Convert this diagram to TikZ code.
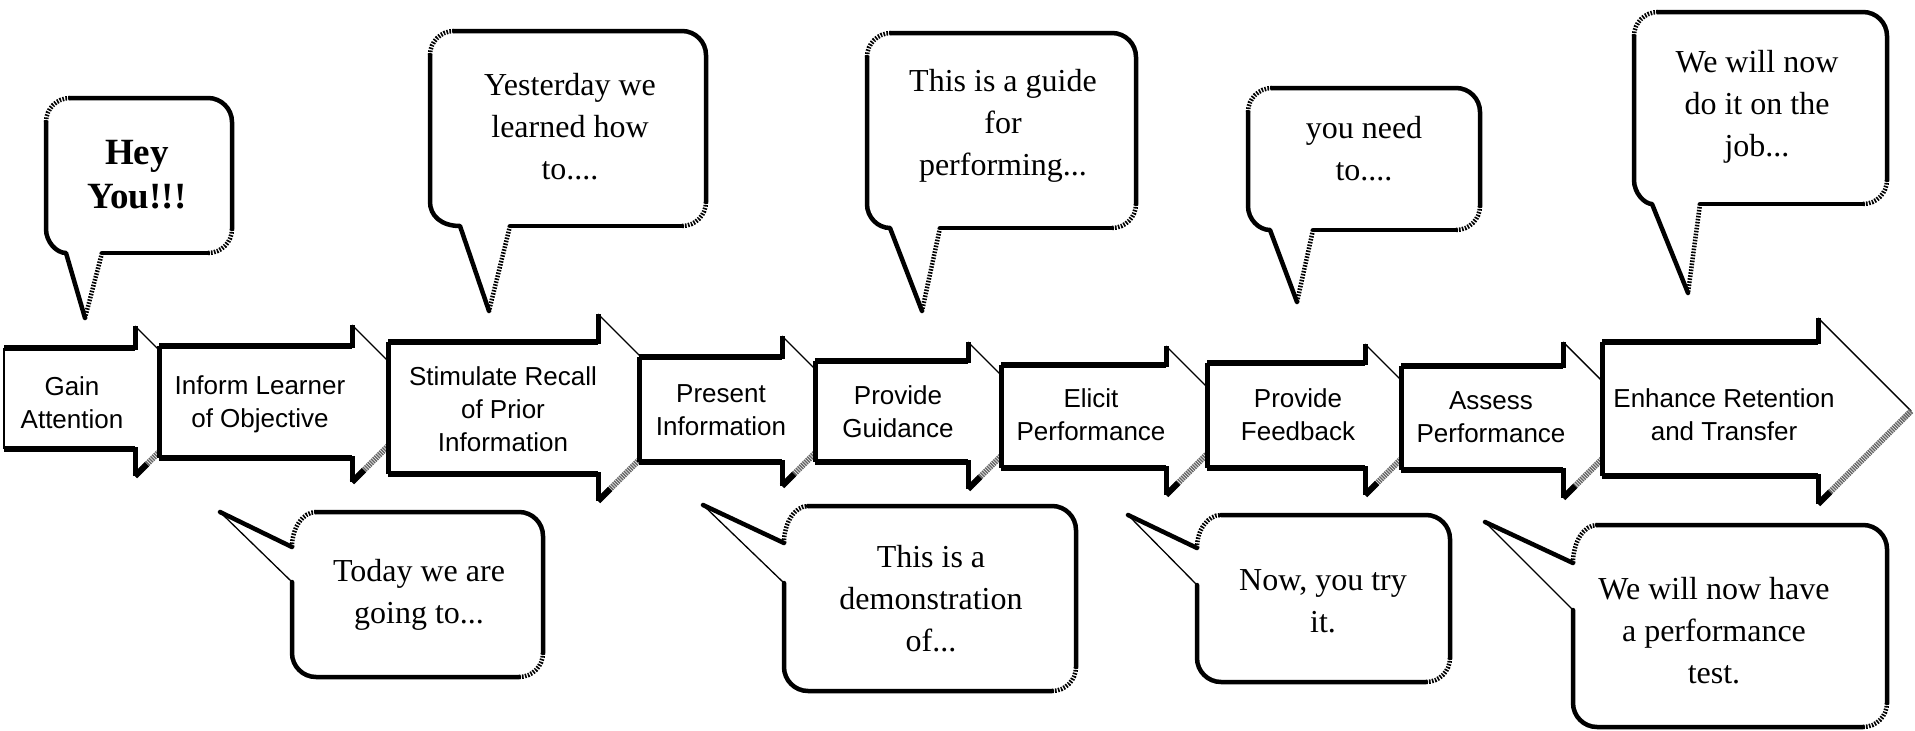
\documentclass[tikz,border=0pt]{standalone}
\usepackage{fontspec}
\newfontfamily\calloutfont{Liberation Serif}
\newfontfamily\labelfont{Liberation Sans}

% arrow: #1 left, #2 notch, #3 body top, #4 body bottom, #5 head top, #6 head bottom, #7 left edge style
\newcommand{\stagearrow}[7]{%
  \pgfmathsetmacro{\myTX}{#2+(#6-#5)/2}%
  \pgfmathsetmacro{\myTY}{(#5+#6)/2}%
  \pgfmathsetmacro{\myKX}{#2+12}%
  \pgfmathsetmacro{\myKY}{#6-12}%
  \fill[white] (#1,#3) -- (#2,#3) -- (#2,#5) -- (\myTX,\myTY) -- (#2,#6) -- (#2,#4) -- (#1,#4) -- cycle;
  \draw[athin] (#2,#5) -- (\myTX,\myTY);
  \draw[ashade] (\myTX,\myTY) -- (#2,#6);
  \draw[ablack] (\myKX,\myKY) -- (#2,#6);
  \draw[athick] (#1,#3) -- (#2,#3);
  \draw[avert] (#2,{#3+2}) -- (#2,#5);
  \draw[avert] (#2,#6) -- (#2,{#4-2});
  \draw[athick] (#2,#4) -- (#1,#4);
  \draw[#7] (#1,#3) -- (#1,#4);
}

% callout with tail below: #1 x1, #2 y1, #3 x2, #4 y2, #5 tail base left, #6 tail base right, #7 #8 tip
\newcommand{\upcallout}[8]{%
  \fill[white] (#1,{#2+24}) .. controls (#1,{#2+10.75}) and ({#1+10.75},#2) .. ({#1+24},#2)
    -- ({#3-24},#2) .. controls ({#3-10.75},#2) and (#3,{#2+10.75}) .. (#3,{#2+24})
    -- (#3,{#4-24}) .. controls (#3,{#4-10.75}) and ({#3-10.75},#4) .. ({#3-24},#4)
    -- (#6,#4) -- (#7,#8) -- (#5,#4) .. controls ({#1+10.75},#4) and (#1,{#4-10.75}) .. (#1,{#4-24}) -- cycle;
  \draw[hatch] (#1,{#2+24}) .. controls (#1,{#2+10.75}) and ({#1+10.75},#2) .. ({#1+24},#2);
  \draw[thk] ({#1+24},#2) -- ({#3-24},#2) .. controls ({#3-10.75},#2) and (#3,{#2+10.75}) .. (#3,{#2+24}) -- (#3,{#4-24});
  \draw[hatch] (#3,{#4-24}) .. controls (#3,{#4-10.75}) and ({#3-10.75},#4) .. ({#3-24},#4);
  \draw[thk] ({#3-24},#4) -- (#6,#4);
  \draw[hatch] (#6,#4) -- (#7,#8);
  \draw[thk] (#7,#8) -- (#5,#4) .. controls ({#1+10.75},#4) and (#1,{#4-10.75}) .. (#1,{#4-24}) -- (#1,{#2+24});
}

% callout with tail to the upper left: #1 x1, #2 y1, #3 x2, #4 y2, #5 #6 tip, #7 upper attach y, #8 lower attach y
\newcommand{\downcallout}[8]{%
  \fill[white] (#5,#6) -- (#1,#7) .. controls (#1,{#2+0.45*(#7-#2)}) and ({#1+10.75},#2) .. ({#1+24},#2)
    -- ({#3-24},#2) .. controls ({#3-10.75},#2) and (#3,{#2+10.75}) .. (#3,{#2+24})
    -- (#3,{#4-24}) .. controls (#3,{#4-10.75}) and ({#3-10.75},#4) .. ({#3-24},#4)
    -- ({#1+24},#4) .. controls ({#1+10.75},#4) and (#1,{#4-10.75}) .. (#1,{#4-24}) -- (#1,#8) -- cycle;
  \draw[thk] (#5,#6) -- (#1,#7);
  \draw[hatch] (#1,#7) .. controls (#1,{#2+0.45*(#7-#2)}) and ({#1+10.75},#2) .. ({#1+24},#2);
  \draw[thk] ({#1+24},#2) -- ({#3-24},#2) .. controls ({#3-10.75},#2) and (#3,{#2+10.75}) .. (#3,{#2+24}) -- (#3,{#4-24});
  \draw[hatch] (#3,{#4-24}) .. controls (#3,{#4-10.75}) and ({#3-10.75},#4) .. ({#3-24},#4);
  \draw[thk] ({#3-24},#4) -- ({#1+24},#4) .. controls ({#1+10.75},#4) and (#1,{#4-10.75}) .. (#1,{#4-24}) -- (#1,#8);
  \draw[thn] (#1,#8) -- (#5,#6);
}

\begin{document}
\begin{tikzpicture}[x=1pt,y=-1pt,
  thk/.style={line width=4.5pt, line join=round, line cap=round},
  hatch/.style={line width=4.5pt, dash pattern=on 1.6pt off 1.4pt},
  thn/.style={line width=1.3pt},
  athick/.style={line width=6pt},
  avert/.style={line width=5pt},
  ashade/.style={line width=6pt, draw=black!60, dash pattern=on 1.5pt off 0.8pt},
  ablack/.style={line width=6pt},
  athin/.style={line width=1.4pt},
  lbl/.style={font=\labelfont\fontsize{26}{33}\selectfont, align=center, inner sep=0pt},
  ctext/.style={font=\calloutfont\fontsize{32}{42}\selectfont, align=center, inner sep=0pt},
  ctextbold/.style={font=\calloutfont\bfseries\fontsize{37}{44}\selectfont, align=center, inner sep=0pt},
]
\useasboundingbox (0,0) rectangle (1915,731);
\fill[white] (0,0) rectangle (1915,731);

% stage arrows
\stagearrow{4}{135}{348}{449}{326}{476}{thn}
\node[lbl] (a1) at (72,403) {Gain\\Attention};
\stagearrow{159}{352}{346}{458}{325}{482}{avert}
\node[lbl] (a2) at (260,404) {Inform Learner\\of Objective};
\stagearrow{388}{598}{342}{474}{314}{501}{avert}
\node[lbl] (a3) at (503,409) {Stimulate Recall\\of Prior\\Information};
\stagearrow{639}{782}{357}{462}{336}{486}{avert}
\node[lbl] (a4) at (721,410) {Present\\Information};
\stagearrow{815}{968}{361}{462}{342}{489}{avert}
\node[lbl] (a5) at (898,412) {Provide\\Guidance};
\stagearrow{1001}{1166}{365}{468}{346}{495}{avert}
\node[lbl] (a6) at (1091,415) {Elicit\\Performance};
\stagearrow{1207}{1365}{363}{468}{344}{495}{avert}
\node[lbl] (a7) at (1298,415) {Provide\\Feedback};
\stagearrow{1401}{1563}{366}{470}{342}{498}{avert}
\node[lbl] (a8) at (1491,417) {Assess\\Performance};
\stagearrow{1602}{1818}{342}{476}{318}{504}{avert}
\node[lbl] (a9) at (1724,415) {Enhance Retention\\and Transfer};

% upper callouts
\upcallout{46}{98}{232}{253}{66}{102}{85}{318}
\node[ctextbold] (c1) at (137,175) {Hey\\You!!!};
\upcallout{430}{31}{706}{226}{460}{510}{489}{311}
\node[ctext] (c2) at (570,127) {Yesterday we\\learned how\\to....};
\upcallout{867}{33}{1136}{228}{890}{940}{922}{311}
\node[ctext] (c3) at (1003,126) {This is a guide\\for\\performing...};
\upcallout{1248}{88}{1480}{230}{1270}{1313}{1297}{302}
\node[ctext] (c4) at (1364,149) {you need\\to....};
\upcallout{1634}{12}{1887}{204}{1652}{1700}{1688}{293}
\node[ctext] (c5) at (1757,107) {We will now\\do it on the\\job...};

% lower callouts
\downcallout{292}{512}{543}{677}{220}{512}{547}{582}
\node[ctext] (c6) at (419,595) {Today we are\\going to...};
\downcallout{784}{506}{1076}{691}{703}{505}{543}{583}
\node[ctext] (c7) at (931,599) {This is a\\demonstration\\of...};
\downcallout{1197}{515}{1450}{682}{1128}{515}{548}{585}
\node[ctext] (c8) at (1323,601) {Now, you try\\it.};
\downcallout{1573}{525}{1887}{727}{1485}{522}{563}{610}
\node[ctext] (c9) at (1714,631) {We will now have\\a performance\\test.};
\end{tikzpicture}
\end{document}
